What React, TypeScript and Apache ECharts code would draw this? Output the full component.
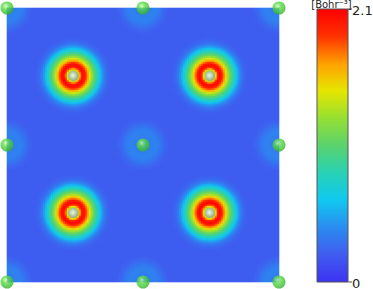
import React, { useEffect, useRef } from "react";
import * as echarts from "echarts";

// ---- data ----
const valueMin = 0;
const valueMax = 2.1;
const unitLabel = "[Bohr⁻³]";
const tickLabels = ["2.1", "0"];

// colormap, evenly spaced from value 0 (bottom) to 2.1 (top)
const colormap = [
  "#3c32f2", "#405cf0", "#2b8cf0", "#10c8f0", "#28d2b4", "#5ad26e",
  "#96e032", "#e6e600", "#ffa000", "#ff3200", "#ff0000",
];

const gridCols = 136;
const gridRows = 137;
const backgroundDensity = 0.22;

// atoms carrying the shell-shaped density (fractional coordinates)
const ringAtomsX = [0.244, 0.746, 0.244, 0.746];
const ringAtomsY = [0.248, 0.248, 0.748, 0.748];
// large atoms on corners / edges / centre
const cornerAtomsX = [0, 0.5, 1, 0, 0.5, 1, 0, 0.5, 1];
const cornerAtomsY = [0, 0, 0, 0.5, 0.5, 0.5, 1, 1, 1];

// radial density profiles, sampled every 2 px of radius
const profileStepPx = 2;
const ringProfile = [
  1.15, 1.15, 1.2, 1.45, 1.92, 2.08, 2.0, 1.78, 1.55, 1.32,
  1.15, 1.0, 0.85, 0.7, 0.55, 0.42, 0.33, 0.27, 0.24, 0.22,
];
const haloProfile = [
  0.3, 0.3, 0.32, 0.34, 0.36, 0.37, 0.38, 0.37, 0.35, 0.32,
  0.29, 0.26, 0.24, 0.22,
];

function profileAt(profile: number[], r: number): number {
  const t = r / profileStepPx;
  const i = Math.floor(t);
  if (i >= profile.length - 1) return profile[profile.length - 1];
  const f = t - i;
  return profile[i] * (1 - f) + profile[i + 1] * f;
}

export default function App() {
  const ref = useRef<HTMLDivElement>(null);

  useEffect(() => {
    if (!ref.current) return;
    const chart = echarts.init(ref.current, null, { renderer: "svg" });

    const gridLeft = 7;
    const gridTop = 8;
    const gridW = 272;
    const gridH = 274;
    const cw = gridW / gridCols;
    const ch = gridH / gridRows;

    const heat: number[][] = [];
    for (let i = 0; i < gridCols; i++) {
      for (let j = 0; j < gridRows; j++) {
        const px = (i + 0.5) * cw;
        const py = (j + 0.5) * ch;
        let v = backgroundDensity;
        for (let k = 0; k < ringAtomsX.length; k++) {
          const r = Math.hypot(px - ringAtomsX[k] * gridW, py - ringAtomsY[k] * gridH);
          v = Math.max(v, profileAt(ringProfile, r));
        }
        for (let k = 0; k < cornerAtomsX.length; k++) {
          const r = Math.hypot(px - cornerAtomsX[k] * gridW, py - cornerAtomsY[k] * gridH);
          v = Math.max(v, profileAt(haloProfile, r));
        }
        heat.push([i, j, v]);
      }
    }

    const xCats = Array.from({ length: gridCols }, (_, i) => String(i));
    const yCats = Array.from({ length: gridRows }, (_, i) => String(i));

    const barX = 317;
    const barY = 9;
    const barW = 31;
    const barH = 273;

    const colorStops = colormap.map((c, i) => ({ offset: i / (colormap.length - 1), color: c }));

    chart.setOption({
      animation: false,
      grid: { left: gridLeft, top: gridTop, width: gridW, height: gridH },
      xAxis: [
        { type: "category", data: xCats, show: false },
        { type: "value", min: 0, max: 1, show: false },
      ],
      yAxis: [
        { type: "category", data: yCats, show: false, inverse: true },
        { type: "value", min: 0, max: 1, show: false, inverse: true },
      ],
      visualMap: {
        type: "continuous",
        show: false,
        min: valueMin,
        max: valueMax,
        seriesIndex: 0,
        inRange: { color: colormap },
      },
      series: [
        {
          type: "heatmap",
          data: heat,
          progressive: 0,
          silent: true,
          itemStyle: { borderWidth: 0 },
        },
        {
          type: "scatter",
          xAxisIndex: 1,
          yAxisIndex: 1,
          clip: false,
          silent: true,
          symbolSize: 10,
          data: ringAtomsX.map((x, k) => [x, ringAtomsY[k]]),
          itemStyle: {
            color: {
              type: "radial", x: 0.45, y: 0.45, r: 0.6,
              colorStops: [
                { offset: 0, color: "#ffffff" },
                { offset: 0.35, color: "#dcdcdc" },
                { offset: 1, color: "#8c8c8c" },
              ],
            },
          },
        },
        {
          type: "scatter",
          xAxisIndex: 1,
          yAxisIndex: 1,
          clip: false,
          silent: true,
          symbolSize: 13,
          data: cornerAtomsX.map((x, k) => [x, cornerAtomsY[k]]),
          itemStyle: {
            color: {
              type: "radial", x: 0.4, y: 0.35, r: 0.7,
              colorStops: [
                { offset: 0, color: "#cffab8" },
                { offset: 0.35, color: "#5cdc4a" },
                { offset: 1, color: "#2fae28" },
              ],
            },
          },
        },
      ],
      graphic: [
        {
          type: "rect",
          shape: { x: barX, y: barY, width: barW, height: barH },
          style: {
            fill: { type: "linear", x: 0, y: 1, x2: 0, y2: 0, colorStops },
            stroke: "#555",
            lineWidth: 1,
          },
        },
        { type: "line", shape: { x1: barX + barW, y1: barY, x2: barX + barW + 4, y2: barY }, style: { stroke: "#555", lineWidth: 1 } },
        { type: "line", shape: { x1: barX + barW, y1: barY + barH, x2: barX + barW + 4, y2: barY + barH }, style: { stroke: "#555", lineWidth: 1 } },
        {
          type: "text",
          x: barX + barW + 4,
          y: barY + 1,
          style: { text: tickLabels[0], fontSize: 13, fontFamily: "DejaVu Sans", fill: "#222", verticalAlign: "middle", align: "left" },
        },
        {
          type: "text",
          x: barX + barW + 4,
          y: barY + barH + 1,
          style: { text: tickLabels[1], fontSize: 13, fontFamily: "DejaVu Sans", fill: "#222", verticalAlign: "middle", align: "left" },
        },
        {
          type: "text",
          x: barX + barW / 2 - 1,
          y: 4,
          style: { text: unitLabel, fontSize: 10, fontFamily: "DejaVu Sans", fill: "#222", verticalAlign: "middle", align: "center" },
        },
      ],
    });

    return () => chart.dispose();
  }, []);

  return (
    <div
      ref={ref}
      style={{ position: "fixed", left: 0, top: 0, width: 373, height: 289, background: "#fff" }}
    />
  );
}
